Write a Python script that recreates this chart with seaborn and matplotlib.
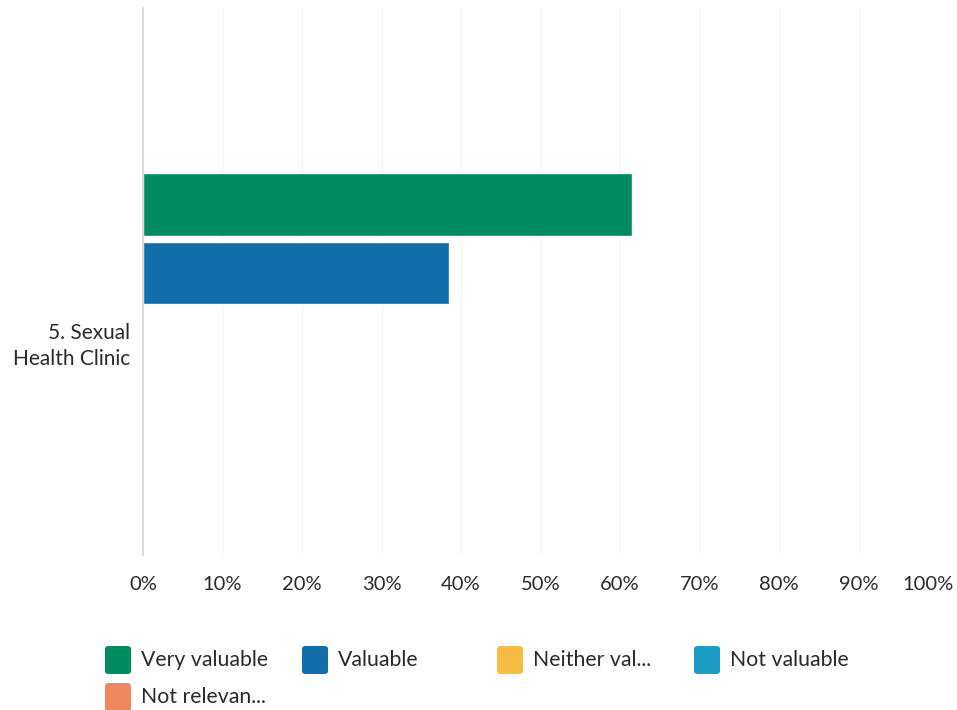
import matplotlib
matplotlib.use("Agg")
import matplotlib.pyplot as plt
from matplotlib.patches import FancyBboxPatch
from matplotlib.transforms import ScaledTranslation
import seaborn as sns
import pandas as pd

# survey answers for one question
question = "5. Sexual\nHealth Clinic"
responses = ["Very valuable", "Valuable", "Neither val...", "Not valuable", "Not relevan..."]
percents = [61.54, 38.46, 0.0, 0.0, 0.0]
colors = ["#008c5f", "#126eaa", "#f7bd42", "#1d9dc3", "#f0875f"]
ticks = [0, 10, 20, 30, 40, 50, 60, 70, 80, 90, 100]

df = pd.DataFrame({"question": [question] * len(responses),
                   "response": responses,
                   "pct": percents})

sns.set_style("white")
plt.rcParams["font.family"] = ["Lato", "DejaVu Sans"]

fig = plt.figure(figsize=(9.57, 7.10), dpi=100)
ax = fig.add_axes([143 / 957, 1 - 555 / 710, (938 - 143) / 957, (555 - 8) / 710])

sns.barplot(data=df, x="pct", y="question", hue="response", hue_order=responses,
            palette=colors, orient="h", width=0.8, gap=0.09, saturation=1,
            legend=False, ax=ax)

ax.set_xlim(0, 100)
ax.set_ylim(0.50, -0.78)
ax.set_xticks(ticks)
ax.set_xticklabels([f"{t}%" for t in ticks], fontsize=14.5, color="#2a2a2a")
ax.tick_params(axis="x", length=0, pad=15)
# last label pulled in so it stays on the canvas
last = ax.get_xticklabels()[-1]
last.set_transform(last.get_transform() + ScaledTranslation(-10 / 100, 0, fig.dpi_scale_trans))

ax.tick_params(axis="y", length=0, pad=9)
for lab in ax.get_yticklabels():
    lab.set_horizontalalignment("right")
    lab.set_fontsize(15)
    lab.set_color("#2a2a2a")
    lab.set_linespacing(1.35)
ax.set_xlabel("")
ax.set_ylabel("")
ax.grid(axis="x", color="#f7f7f7", linewidth=1)
ax.set_axisbelow(True)
for side in ["top", "right", "bottom"]:
    ax.spines[side].set_visible(False)
ax.spines["left"].set_color("#d6d6d6")
ax.spines["left"].set_linewidth(1.2)

# legend laid out like the original fixed-width grid
col_x = [105, 302, 497, 694]
row_y = [660, 697]
for i, (name, c) in enumerate(zip(responses, colors)):
    px = col_x[i % 4]
    py = row_y[i // 4]
    box = FancyBboxPatch((px / 957, 1 - (py + 14) / 710), 26 / 957, 28 / 710,
                         boxstyle="round,pad=0,rounding_size=0.004",
                         transform=fig.transFigure, facecolor=c, edgecolor="none")
    fig.add_artist(box)
    fig.text((px + 36) / 957, 1 - py / 710, name, fontsize=15.3, color="#2a2a2a",
             va="center", ha="left")

fig.savefig("out.png", dpi=100, facecolor="white")
